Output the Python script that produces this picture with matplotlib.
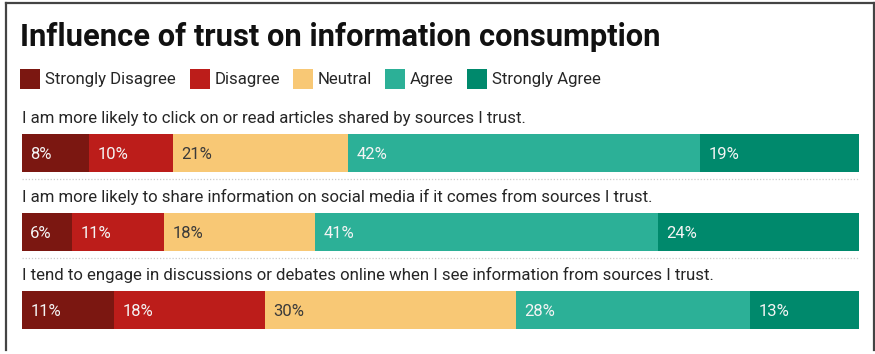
import matplotlib
matplotlib.use("Agg")
import matplotlib.pyplot as plt
from matplotlib.patches import Rectangle
from matplotlib.lines import Line2D
import numpy as np

title = "Influence of trust on information consumption"
categories = ["Strongly Disagree", "Disagree", "Neutral", "Agree", "Strongly Agree"]
questions = [
    "I am more likely to click on or read articles shared by sources I trust.",
    "I am more likely to share information on social media if it comes from sources I trust.",
    "I tend to engage in discussions or debates online when I see information from sources I trust.",
]
strongly_disagree = [8, 6, 11]
disagree = [10, 11, 18]
neutral = [21, 18, 30]
agree = [42, 41, 28]
strongly_agree = [19, 24, 13]

colors = ["#7b1711", "#bc1d1a", "#f8c875", "#2cb097", "#00896c"]
label_colors = ["#f4f4f4", "#f4f4f4", "#3a3a3a", "#f4f4f4", "#f4f4f4"]

W, H = 875, 354
plt.rcParams['font.family'] = ['Roboto', 'DejaVu Sans']
fig = plt.figure(figsize=(W / 100, H / 100), dpi=100)

def fx(px):
    return px / W

def fy(py):
    return 1 - py / H

# frame
fig.add_artist(Line2D([fx(5.5), fx(5.5)], [fy(3), fy(350)], color="#444444", lw=1.6))
fig.add_artist(Line2D([fx(5.5), fx(873.5)], [fy(3), fy(3)], color="#444444", lw=1.6))
fig.add_artist(Line2D([fx(873.5), fx(873.5)], [fy(3), fy(350)], color="#444444", lw=1.6))

# title
fig.text(fx(20), fy(46), title, fontsize=22.2, fontweight="bold", color="#111111",
         ha="left", va="baseline")

# legend
leg_x = [20, 190, 293, 385, 467]
for cat, col, x in zip(categories, colors, leg_x):
    fig.add_artist(Rectangle((fx(x), fy(89)), fx(20), 20 / H, facecolor=col,
                             edgecolor="none", transform=fig.transFigure))
    fig.text(fx(x + 25), fy(84), cat, fontsize=12.1, color="#262626",
             ha="left", va="baseline")

# bars axes
row_px = 78.5
bar_px = 38
half = bar_px / row_px / 2
top_px = 134
bot_px = top_px + 2 * row_px + bar_px
ax = fig.add_axes([fx(22), fy(bot_px), fx(859) - fx(22), (bot_px - top_px) / H])
ax.set_xlim(0, 100)
ax.set_ylim(2 + half, -half)
ax.axis("off")

series = [strongly_disagree, disagree, neutral, agree, strongly_agree]
y = np.arange(len(questions))
left = np.zeros(len(questions))
for vals, col, lc in zip(series, colors, label_colors):
    vals = np.array(vals, dtype=float)
    ax.barh(y, vals, left=left, height=2 * half, color=col, edgecolor="none")
    for yi, l, v in zip(y, left, vals):
        ax.text(l + 1.0, yi + 0.02, f"{int(v)}%", color=lc, fontsize=12,
                ha="left", va="center")
    left += vals

for i, q in enumerate(questions):
    ax.text(0, i - half - 0.1, q, fontsize=12.1, color="#262626",
            ha="left", va="bottom", clip_on=False)
    if i < len(questions) - 1:
        ax.plot([0, 100], [i + half + 0.09] * 2, color="#cccccc", lw=0.9,
                linestyle=(0, (1, 1.5)), clip_on=False)

fig.savefig("out.png", dpi=100)
